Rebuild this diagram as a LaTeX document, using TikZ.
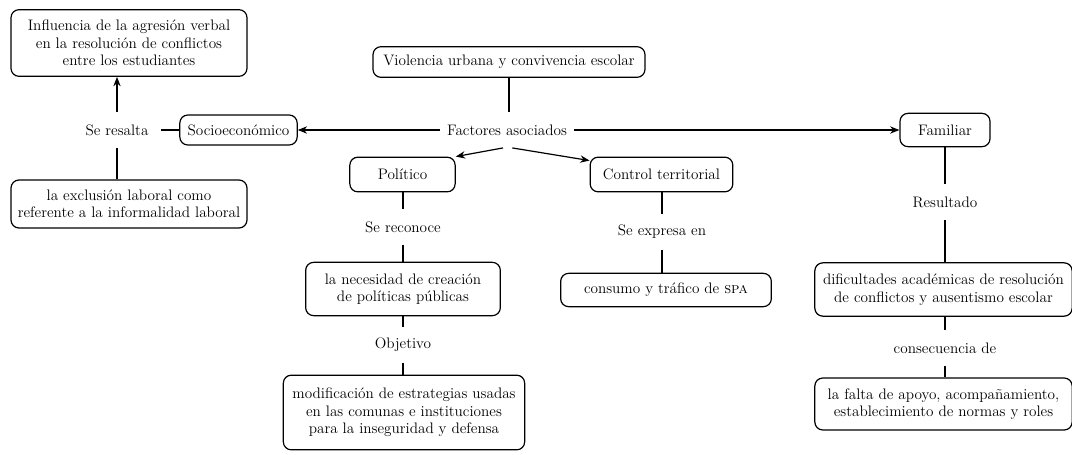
\documentclass[tikz,border=0pt]{standalone}
\usetikzlibrary{arrows.meta}
\begin{document}
\begin{tikzpicture}[x=0.75pt, y=-0.75pt, line width=0.9pt,
  font=\fontsize{11.4}{13.1}\selectfont,
  caja/.style = {draw, rounded corners=6pt, align=center, inner sep=2pt},
  etiq/.style = {inner xsep=9pt, minimum height=26pt},
  flecha/.style = {-{Stealth[length=7pt, width=5.5pt]}}]
\useasboundingbox (0,0) rectangle (1072,454);
% nodo central
\node[caja, minimum width=204pt, minimum height=23pt] (violencia) at (509,62) {Violencia urbana y convivencia escolar};
\node[inner xsep=5pt, minimum height=26pt] (factores) at (507,130) {Factores asociados};
% rama socioeconomica
\node[caja, minimum width=88pt, minimum height=22.5pt] (socio) at (238.5,130) {Socioeconómico};
\node[etiq] (resalta) at (117,130) {Se resalta};
\node[caja, minimum width=177pt, minimum height=50pt] (influencia) at (129,43) {Influencia de la agresión verbal\\en la resolución de conflictos\\entre los estudiantes};
\node[caja, minimum width=177pt, minimum height=36pt] (exclusion) at (129,204) {la exclusión laboral como\\referente a la informalidad laboral};
% rama politica
\node[caja, minimum width=79pt, minimum height=26pt] (politico) at (402.5,174.5) {Político};
\node[etiq] (reconoce) at (403,227) {Se reconoce};
\node[caja, minimum width=146pt, minimum height=40pt] (necesidad) at (403,289) {la necesidad de creación\\de políticas públicas};
\node[etiq] (objetivo) at (403,345) {Objetivo};
\node[caja, minimum width=181pt, minimum height=56pt] (modificacion) at (404,412.5) {modificación de estrategias usadas\\en las comunas e instituciones\\para la inseguridad y defensa};
% rama control territorial
\node[caja, minimum width=107pt, minimum height=26pt] (control) at (661.5,174.5) {Control territorial};
\node[etiq] (expresa) at (662,232) {Se expresa en};
\node[caja, minimum width=158pt, minimum height=25pt] (consumo) at (666,290) {consumo y tráfico de \textsc{spa}};
% rama familiar
\node[caja, minimum width=67.5pt, minimum height=25pt] (familiar) at (945,130) {Familiar};
\node[etiq] (resultado) at (945,202) {Resultado};
\node[caja, minimum width=193pt, minimum height=40pt] (dificultades) at (943.5,289.5) {dificultades académicas de resolución\\de conflictos y ausentismo escolar};
\node[etiq] (consecuencia) at (945,348) {consecuencia de};
\node[caja, minimum width=193pt, minimum height=39pt] (falta) at (943.5,404) {la falta de apoyo, acompañamiento,\\establecimiento de normas y roles};
% conectores
\draw (violencia) -- (violencia |- factores.north);
\draw[flecha] (factores) -- (socio);
\draw[flecha] (factores) -- (familiar);
\draw[flecha] ([xshift=-3pt]factores.south) -- (politico.north east);
\draw[flecha] ([xshift=4pt]factores.south) -- ([yshift=-3pt]control.north west);
\draw (socio) -- (resalta);
\draw[flecha] (resalta) -- (resalta |- influencia.south);
\draw (resalta) -- (resalta |- exclusion.north);
\draw (reconoce |- politico.south) -- (reconoce);
\draw (reconoce) -- (reconoce |- necesidad.north);
\draw (necesidad) -- (objetivo);
\draw (objetivo) -- (objetivo |- modificacion.north);
\draw (expresa |- control.south) -- (expresa);
\draw (expresa) -- (expresa |- consumo.north);
\draw (familiar) -- (resultado);
\draw (resultado) -- (resultado |- dificultades.north);
\draw (consecuencia |- dificultades.south) -- (consecuencia);
\draw (consecuencia) -- (consecuencia |- falta.north);
\end{tikzpicture}
\end{document}
